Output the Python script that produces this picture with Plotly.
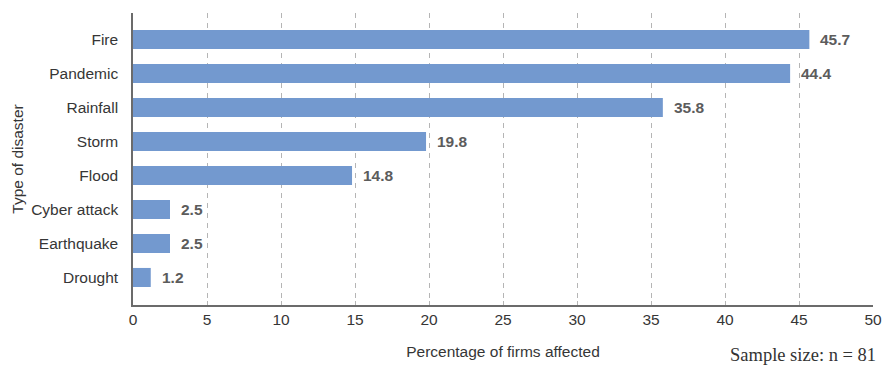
import plotly.graph_objects as go

# Share of surveyed firms affected by each type of disaster (%)
disasters = ["Fire", "Pandemic", "Rainfall", "Storm", "Flood",
             "Cyber attack", "Earthquake", "Drought"]
pct_affected = [45.7, 44.4, 35.8, 19.8, 14.8, 2.5, 2.5, 1.2]
x_ticks = [0, 5, 10, 15, 20, 25, 30, 35, 40, 45, 50]

# plot bottom-up so Fire sits on top
cats = disasters[::-1]
vals = pct_affected[::-1]

BAR = "#7399CF"
TXT = "#363636"
SANS = "Liberation Sans, Arial, sans-serif"

fig = go.Figure()
fig.add_trace(go.Bar(
    x=vals, y=list(range(len(cats))), orientation="h",
    marker=dict(color=BAR, line=dict(width=0)),
    width=0.56, hoverinfo="skip",
))

# value labels just past the end of each bar
for i, v in enumerate(vals):
    fig.add_annotation(
        x=v, y=i, text=f"<b>{v:.1f}</b>", showarrow=False,
        xanchor="left", yanchor="middle", xshift=9,
        font=dict(family=SANS, size=15.5, color="#5c5c5c"),
    )

fig.add_annotation(
    text="Sample size: n = 81", xref="paper", yref="paper",
    x=1.007, y=0, yshift=-50, xanchor="right", yanchor="middle",
    showarrow=False,
    font=dict(family="Liberation Serif, Times New Roman, serif", size=18.5, color="#333333"),
)

fig.update_layout(
    width=882, height=367,
    margin=dict(l=133, r=9, t=13, b=62, autoexpand=False),
    paper_bgcolor="white", plot_bgcolor="white",
    showlegend=False,
    font=dict(family=SANS, size=15.5, color=TXT),
    xaxis=dict(
        range=[0, 50], tickvals=x_ticks, ticktext=[str(t) for t in x_ticks],
        showgrid=True, gridcolor="#b5b5b5", griddash="5px,5px", gridwidth=1,
        showline=True, linecolor="#6b6b6b", linewidth=1.5,
        ticks="inside", ticklen=4, tickcolor="#b5b5b5",
        tickfont=dict(size=15.5, color=TXT),
        title=dict(text="Percentage of firms affected", standoff=19,
                   font=dict(size=15.5, color=TXT)),
        zeroline=False, fixedrange=True, automargin=False,
    ),
    yaxis=dict(
        range=[-0.81, 7.78], tickvals=list(range(len(cats))), ticktext=cats,
        showgrid=False, showline=True, linecolor="#6b6b6b", linewidth=1.5,
        ticks="", ticklabelstandoff=10,
        tickfont=dict(size=15.5, color=TXT),
        title=dict(text="Type of disaster", standoff=4,
                   font=dict(size=15.5, color=TXT)),
        zeroline=False, fixedrange=True, automargin=False,
    ),
)

fig.write_html("out.html")
